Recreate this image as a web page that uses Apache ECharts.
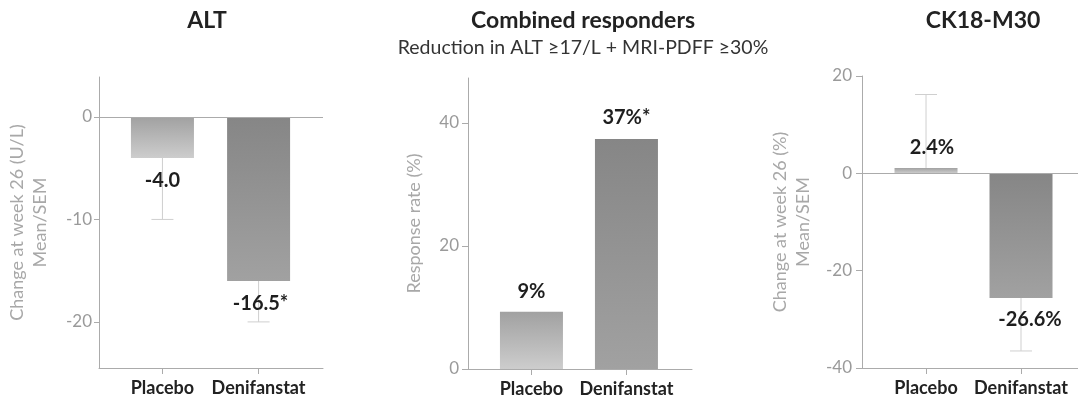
<!DOCTYPE html>
<html>
<head>
<meta charset="utf-8">
<script src="https://cdn.jsdelivr.net/npm/echarts@6/dist/echarts.min.js"></script>
<style>
html,body{margin:0;padding:0;background:#fff;}
#chart{width:1078px;height:400px;}
</style>
</head>
<body>
<div id="chart"></div>
<script>
// ---- data ----
var categories = ['Placebo', 'Denifanstat'];

var altValues = [-4.0, -16.0];
var altErrors = [-10.0, -20.0];
var altLabels = ['-4.0', '-16.5*'];
var altTicks = [-20, -10, 0];

var respValues = [9.3, 37.4];
var respLabels = ['9%', '37%*'];
var respTicks = [0, 20, 40];

var ckValues = [1.1, -25.6];
var ckErrors = [16.2, -36.5];
var ckLabels = ['2.4%', '-26.6%'];
var ckTicks = [-40, -20, 0, 20];

var titles = ['ALT', 'Combined responders', 'CK18-M30'];
var subtitle = 'Reduction in ALT \u226517/L + MRI-PDFF \u226530%';
var yNames = ['Change at week 26 (U/L)\nMean/SEM', 'Response rate (%)', 'Change at week 26 (%)\nMean/SEM'];

// ---- styles ----
var FONT = 'Lato, "Open Sans", sans-serif';
var AXIS_COLOR = '#ababab';
var TICK_LABEL_COLOR = '#9a9a9a';
var barGradients = [
  ['#a1a1a1', '#cdcdcd'],
  ['#868686', '#a1a1a1']
];

var chart = echarts.init(document.getElementById('chart'));

function grad(i) {
  return new echarts.graphic.LinearGradient(0, 0, 0, 1, [
    {offset: 0, color: barGradients[i][0]},
    {offset: 1, color: barGradients[i][1]}
  ]);
}

function xAxisDef(gi, min, max) {
  return {
    gridIndex: gi, type: 'value', min: min, max: max,
    splitLine: {show: false},
    axisLine: {show: true, onZero: false, lineStyle: {color: AXIS_COLOR, width: 1}},
    axisTick: {show: true, length: 6, customValues: [0, 1], lineStyle: {color: AXIS_COLOR}},
    axisLabel: {
      show: true, customValues: [0, 1], margin: 11,
      formatter: function (v) { return categories[Math.round(v)]; },
      fontFamily: FONT, fontWeight: 'bold', fontSize: 18, color: '#222'
    }
  };
}

function yAxisDef(gi, min, max, ticks, name, gap, tickLen, labMargin) {
  return {
    gridIndex: gi, type: 'value', min: min, max: max,
    name: name, nameLocation: 'middle', nameGap: gap,
    nameTextStyle: {fontFamily: FONT, fontSize: 18, color: '#a8a8a8', lineHeight: 23},
    splitLine: {show: false},
    axisLine: {show: true, onZero: false, lineStyle: {color: AXIS_COLOR, width: 1}},
    axisTick: {show: true, length: tickLen, customValues: ticks, lineStyle: {color: AXIS_COLOR}},
    axisLabel: {show: true, customValues: ticks, margin: labMargin,
      fontFamily: FONT, fontSize: 17, color: TICK_LABEL_COLOR}
  };
}

function barSeries(gi, values, labels, offsets, dists, zeroLine) {
  var s = {
    type: 'bar', xAxisIndex: gi, yAxisIndex: gi, barWidth: 63, z: 3,
    data: values.map(function (v, i) {
      return {
        value: [i, v],
        itemStyle: {color: grad(i)},
        label: {
          show: true,
          position: v >= 0 ? 'top' : 'bottom',
          distance: dists[i],
          offset: [offsets[i], 0],
          formatter: labels[i],
          fontFamily: FONT, fontWeight: 'bold', fontSize: 20, lineHeight: 20, color: '#1e1e1e'
        }
      };
    })
  };
  if (zeroLine) {
    s.markLine = {
      silent: true, symbol: 'none', label: {show: false},
      lineStyle: {color: AXIS_COLOR, width: 1, type: 'solid'},
      emphasis: {disabled: true},
      data: [{yAxis: 0}]
    };
  }
  return s;
}

function errSeries(gi, values, errors) {
  return {
    type: 'custom', xAxisIndex: gi, yAxisIndex: gi, z: 1, silent: true,
    data: values.map(function (v, i) { return [i, v, errors[i]]; }),
    renderItem: function (params, api) {
      var p1 = api.coord([api.value(0), api.value(1)]);
      var p2 = api.coord([api.value(0), api.value(2)]);
      var st = {stroke: '#cfcfcf', lineWidth: 1};
      return {
        type: 'group',
        children: [
          {type: 'line', shape: {x1: p1[0], y1: p1[1], x2: p2[0], y2: p2[1]}, style: st},
          {type: 'line', shape: {x1: p2[0] - 11, y1: p2[1], x2: p2[0] + 11, y2: p2[1]}, style: st}
        ]
      };
    }
  };
}

function titleText(x, y, text, size, bold, fill) {
  return {type: 'text', x: x, y: y, style: {text: text, textAlign: 'center', textVerticalAlign: 'middle',
    fontFamily: FONT, fontWeight: bold ? 'bold' : 'normal', fontSize: size, fill: fill}};
}

var option = {
  animation: false,
  backgroundColor: '#fff',
  grid: [
    {left: 99, top: 77, width: 224, height: 291, outerBoundsMode: 'none'},
    {left: 468, top: 78, width: 224, height: 291, outerBoundsMode: 'none'},
    {left: 862, top: 76, width: 216, height: 292, outerBoundsMode: 'none'}
  ],
  xAxis: [
    xAxisDef(0, -0.66, 1.67),
    xAxisDef(1, -0.668, 1.69),
    xAxisDef(2, -0.674, 1.6)
  ],
  yAxis: [
    yAxisDef(0, -24.5, 3.9, altTicks, yNames[0], 47, 5, 7),
    yAxisDef(1, 0, 47.3, respTicks, yNames[1], 42, 6, 9),
    yAxisDef(2, -40, 20, ckTicks, yNames[2], 47, 6, 10)
  ],
  graphic: [
    titleText(207, 21, titles[0], 23, true, '#222'),
    titleText(583, 21, titles[1], 23, true, '#222'),
    titleText(583, 48, subtitle, 19.5, false, '#333'),
    titleText(983, 21, titles[2], 23, true, '#222')
  ],
  series: [
    errSeries(0, altValues, altErrors),
    barSeries(0, altValues, altLabels, [0, 2], [13, 13], true),
    barSeries(1, respValues, respLabels, [0, 0], [10, 11], false),
    errSeries(2, ckValues, ckErrors),
    barSeries(2, ckValues, ckLabels, [6, 9], [10, 12], true)
  ]
};
chart.setOption(option);
</script>
</body>
</html>
